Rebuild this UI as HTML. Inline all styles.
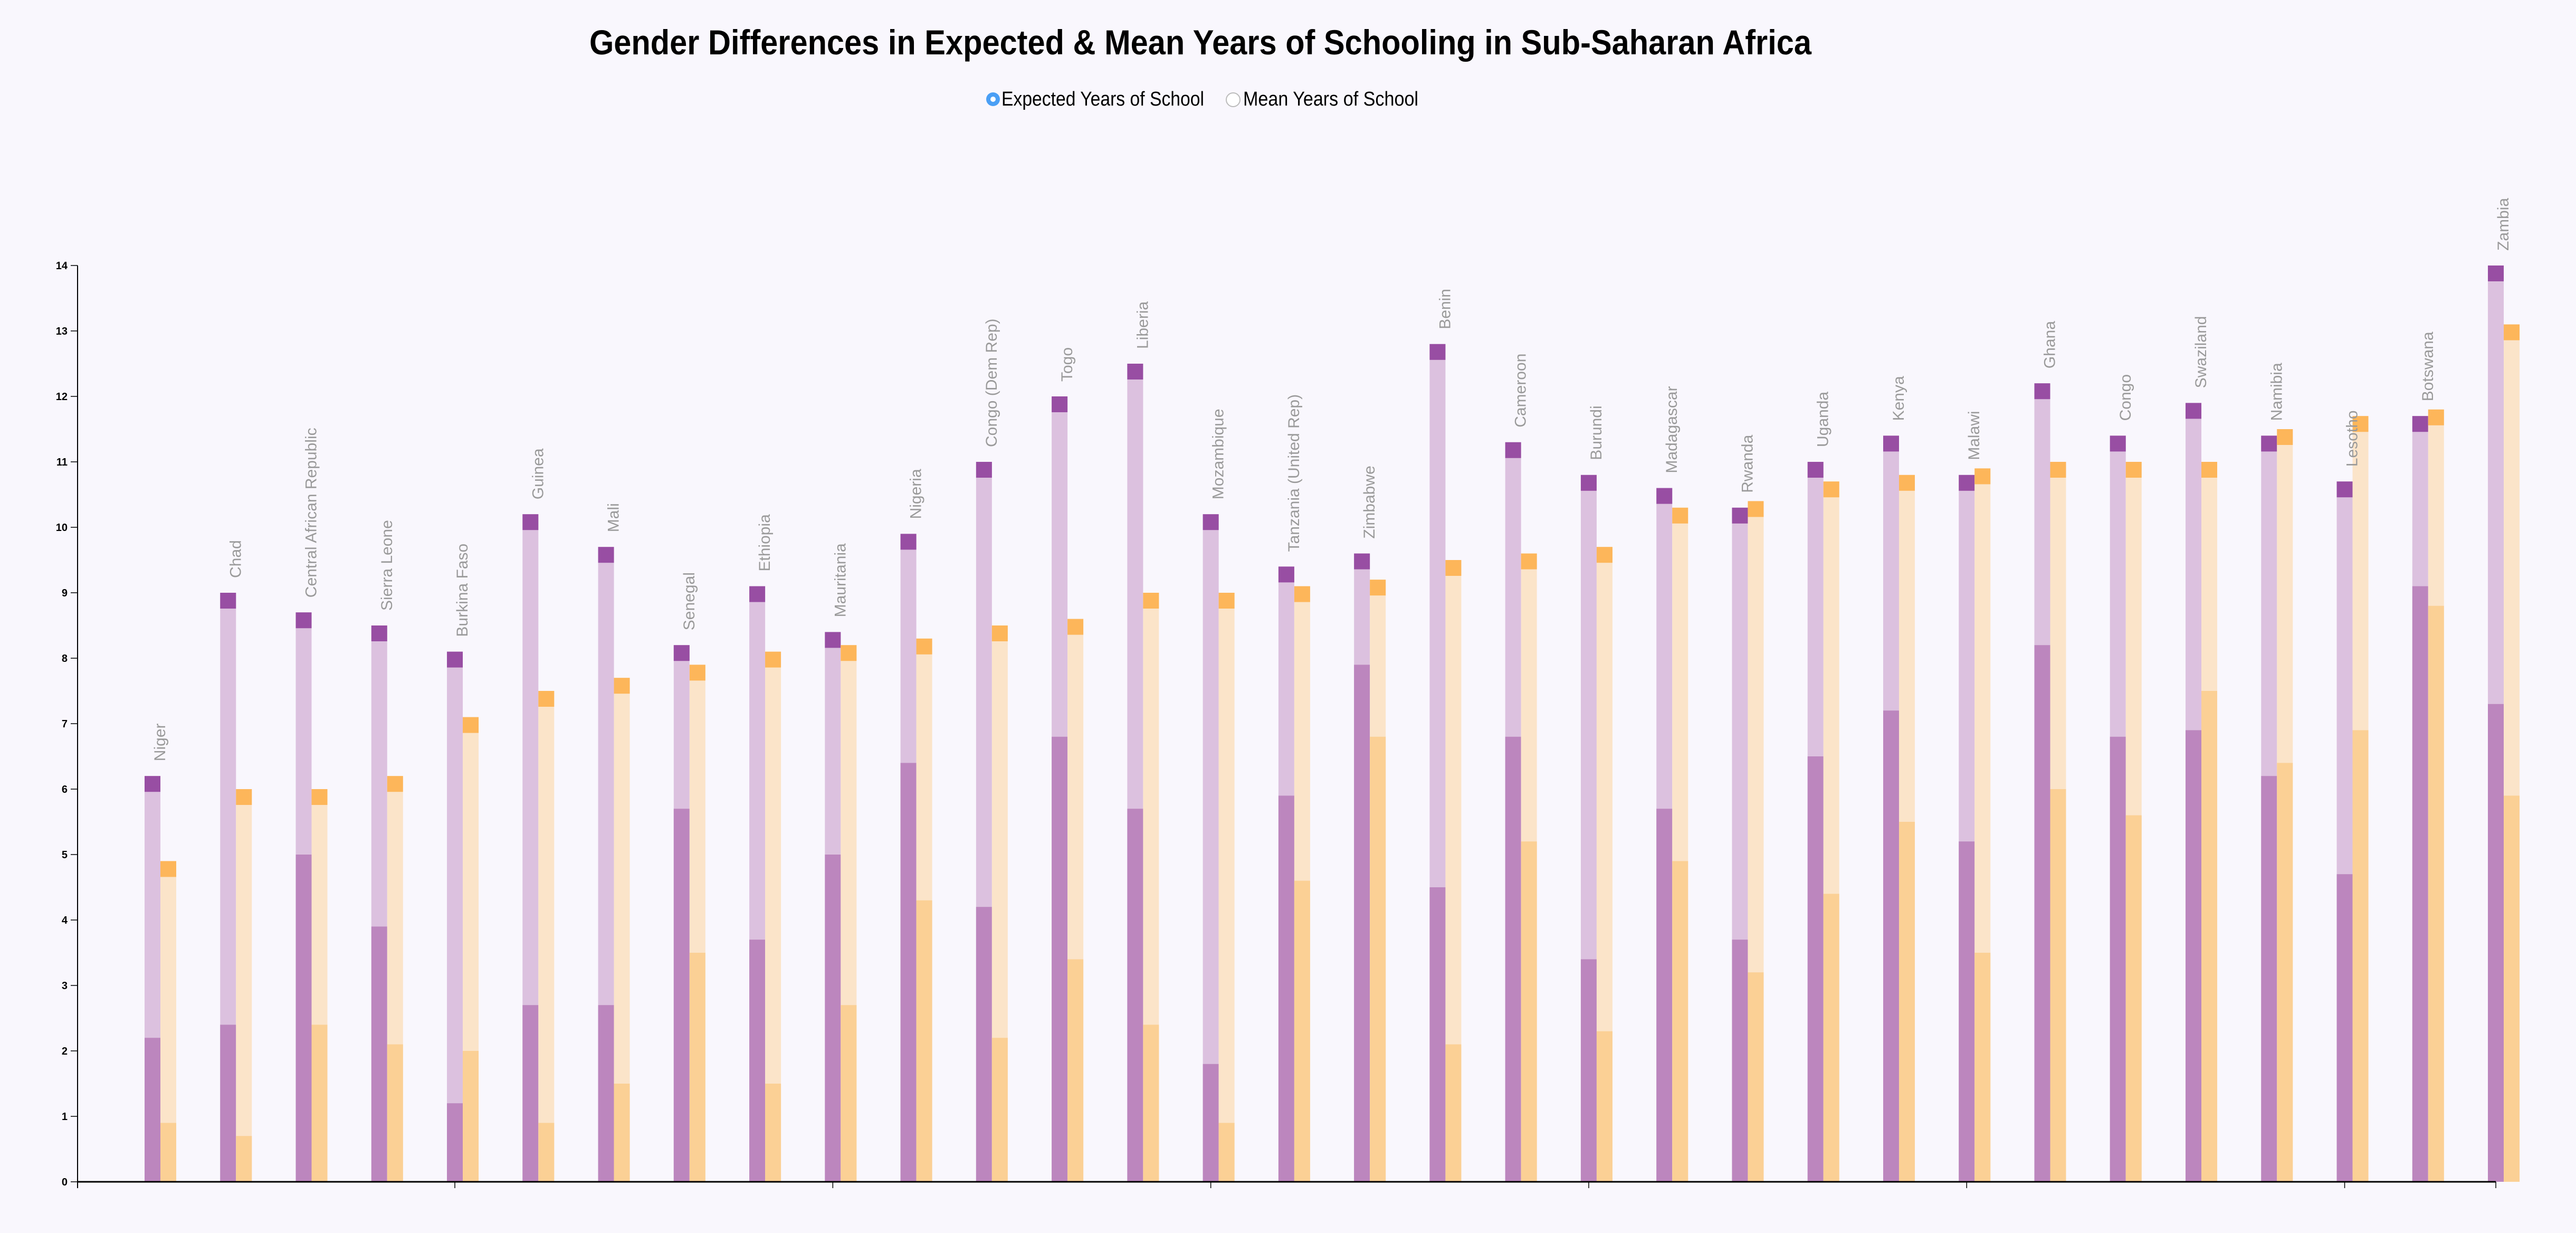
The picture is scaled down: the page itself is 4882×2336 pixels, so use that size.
<!DOCTYPE html>
<html><head><meta charset="utf-8"><style>
html,body{margin:0;padding:0;background:#f9f7fd;}
svg{display:block;font-family:"Liberation Sans",sans-serif;}
</style></head><body>
<svg id="chart" width="4882" height="2336" viewBox="0 0 4882 2336" xmlns="http://www.w3.org/2000/svg">
<rect width="4882" height="2336" fill="#f9f7fd"/>
<text x="1117" y="103" font-size="66" font-weight="bold" textLength="2316" lengthAdjust="spacingAndGlyphs">Gender Differences in Expected &amp; Mean Years of Schooling in Sub-Saharan Africa</text>
<g>
<g>
<circle cx="1882" cy="188" r="13" fill="#4a9ff5"/><circle cx="1882" cy="188" r="5" fill="#fff"/>
<text x="1898" y="200" font-size="38" textLength="384" lengthAdjust="spacingAndGlyphs">Expected Years of School</text>
</g>
<g>
<circle cx="2337" cy="189" r="13" fill="#fff" stroke="#bbb" stroke-width="2"/>
<text x="2356" y="200" font-size="38" textLength="332" lengthAdjust="spacingAndGlyphs">Mean Years of School</text>
</g>
</g>
<g id="plot"></g>
</svg>
<script>
const countries=["Niger","Chad","Central African Republic","Sierra Leone","Burkina Faso","Guinea","Mali","Senegal","Ethiopia","Mauritania","Nigeria","Congo (Dem Rep)","Togo","Liberia","Mozambique","Tanzania (United Rep)","Zimbabwe","Benin","Cameroon","Burundi","Madagascar","Rwanda","Uganda","Kenya","Malawi","Ghana","Congo","Swaziland","Namibia","Lesotho","Botswana","Zambia"];
const maleExpected=[6.2,9.0,8.7,8.5,8.1,10.2,9.7,8.2,9.1,8.4,9.9,11.0,12.0,12.5,10.2,9.4,9.6,12.8,11.3,10.8,10.6,10.3,11.0,11.4,10.8,12.2,11.4,11.9,11.4,10.7,11.7,14.0];
const maleMean=[2.2,2.4,5.0,3.9,1.2,2.7,2.7,5.7,3.7,5.0,6.4,4.2,6.8,5.7,1.8,5.9,7.9,4.5,6.8,3.4,5.7,3.7,6.5,7.2,5.2,8.2,6.8,6.9,6.2,4.7,9.1,7.3];
const femaleExpected=[4.9,6.0,6.0,6.2,7.1,7.5,7.7,7.9,8.1,8.2,8.3,8.5,8.6,9.0,9.0,9.1,9.2,9.5,9.6,9.7,10.3,10.4,10.7,10.8,10.9,11.0,11.0,11.0,11.5,11.7,11.8,13.1];
const femaleMean=[0.9,0.7,2.4,2.1,2.0,0.9,1.5,3.5,1.5,2.7,4.3,2.2,3.4,2.4,0.9,4.6,6.8,2.1,5.2,2.3,4.9,3.2,4.4,5.5,3.5,6.0,5.6,7.5,6.4,6.9,8.8,5.9];
const yTicks=[0,1,2,3,4,5,6,7,8,9,10,11,12,13,14];
const xTicks=[4,9,14,19,24,29];

const NS="http://www.w3.org/2000/svg";
const plot=document.getElementById('plot');
const y0=2239, unit=124, x0=147, step=143.26, bw=30, cap=30;
function y(v){return y0-v*unit;}
function x(i){return 289+i*step;} // purple bar center
const xEnd=x(countries.length-1);
function mk(tag,attrs,parent){const e=document.createElementNS(NS,tag);for(const k in attrs)e.setAttribute(k,attrs[k]);(parent||plot).appendChild(e);return e;}

// bars
countries.forEach((c,i)=>{
  const g=mk('g',{});
  
  
  const series=[[maleExpected[i],maleMean[i],x(i)-bw/2,'#dcc1df','#bc86be','#984ea3','male'],
                [femaleExpected[i],femaleMean[i],x(i)+bw/2,'#fbe4c9','#fbd095','#fdb65a','female']];
  series.forEach(s=>{
    const [ex,mn,lx,cl,cd,cc,nm]=s;
    const r1=mk('rect',{x:lx,y:y(ex),width:bw,height:y0-y(ex),fill:cl},g);
    
    
    const r2=mk('rect',{x:lx,y:y(mn),width:bw,height:y0-y(mn),fill:cd},g);
    
    
    const r3=mk('rect',{x:lx,y:y(ex),width:bw,height:cap,fill:cc},g);
    
    
  });
  const t=mk('text',{transform:`translate(${x(i)+24},${y(maleExpected[i])-28}) rotate(-90)`,'font-size':30,fill:'#9a9a9a'},g);
  
  
  t.textContent=c;
});

// y axis
const ya=mk('g',{});


mk('line',{x1:x0,y1:y(14),x2:x0,y2:y0+12,stroke:'#000','stroke-width':2},ya);
yTicks.forEach(v=>{
  mk('line',{x1:x0-13,y1:y(v),x2:x0,y2:y(v),stroke:'#000','stroke-width':1.5},ya);
  const t=mk('text',{x:x0-19,y:y(v)+7,'font-size':20,'font-weight':'bold','text-anchor':'end'},ya);
  
  
  t.textContent=v;
});
// x axis
const xa=mk('g',{});


mk('line',{x1:x0,y1:y0,x2:xEnd,y2:y0,stroke:'#000','stroke-width':3},xa);
xTicks.forEach(i=>{ mk('line',{x1:x(i),y1:y0,x2:x(i),y2:y0+12,stroke:'#000','stroke-width':1.5},xa); });
mk('line',{x1:xEnd,y1:y0,x2:xEnd,y2:y0+12,stroke:'#000','stroke-width':1.5},xa);
</script>
</body></html>
